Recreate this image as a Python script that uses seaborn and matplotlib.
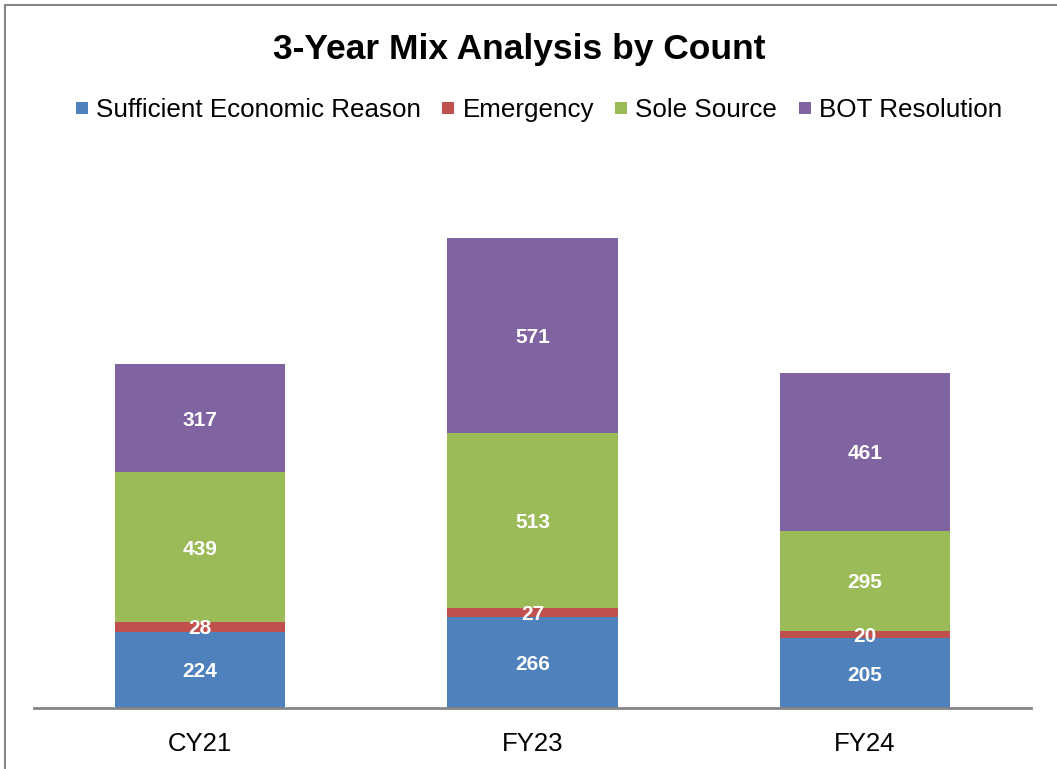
import matplotlib
matplotlib.use("Agg")
import matplotlib.pyplot as plt
import seaborn as sns
import numpy as np
import pandas as pd
from matplotlib.lines import Line2D

years = ["CY21", "FY23", "FY24"]
series_names = ["Sufficient Economic Reason", "Emergency", "Sole Source", "BOT Resolution"]
sufficient = [224, 266, 205]
emergency = [28, 27, 20]
sole_source = [439, 513, 295]
bot_resolution = [317, 571, 461]
colors = ["#4F81BD", "#C0504D", "#9BBB59", "#8064A2"]

sns.set_theme(style="white")
plt.rcParams["font.family"] = ["Liberation Sans", "DejaVu Sans"]
plt.rcParams["text.color"] = "black"

W, H = 1057, 769
fig = plt.figure(figsize=(W / 100, H / 100), dpi=100)
ax = fig.add_axes([34 / W, (H - 708) / H, 997 / W, 546 / H])

series = [sufficient, emergency, sole_source, bot_resolution]
bottom = np.zeros(len(years))
for name, vals, col in zip(series_names, series, colors):
    df = pd.DataFrame({"year": years, "count": vals})
    sns.barplot(data=df, x="year", y="count", color=col, saturation=1,
                width=0.512, bottom=bottom.copy(), ax=ax, linewidth=0,
                errorbar=None)
    for i, v in enumerate(vals):
        ax.text(i, bottom[i] + v / 2, f"{v}", ha="center", va="center_baseline",
                color="white", fontsize=15, fontweight="bold")
    bottom += np.array(vals)

ax.set_xlim(-0.5, 2.5)
ax.set_ylim(0, 1600)
ax.set_yticks([])
ax.set_xlabel("")
ax.set_ylabel("")
for s in ["top", "right", "left"]:
    ax.spines[s].set_visible(False)
ax.spines["bottom"].set_color("#868686")
ax.spines["bottom"].set_linewidth(2)
ax.tick_params(axis="x", length=0, pad=17, labelsize=18.5, colors="black")

fig.text(519 / W, 1 - 49 / H, "3-Year Mix Analysis by Count", ha="center",
         va="center", fontsize=25.5, fontweight="bold", color="black")

handles = [Line2D([0], [0], marker="s", linestyle="none", markersize=8,
                  markerfacecolor=c, markeredgewidth=0) for c in colors]
leg = fig.legend(handles, series_names, loc="center", ncol=4,
                 bbox_to_anchor=(536 / W, 1 - 110 / H), frameon=False,
                 fontsize=18.7, handletextpad=0.1, columnspacing=0.6,
                 handlelength=0.9)
for t in leg.get_texts():
    t.set_color("black")

# chart border (left and top edges)
fig.add_artist(Line2D([4.5 / W, 4.5 / W], [0, 1 - 4.5 / H],
                      color="#868686", linewidth=1.5, transform=fig.transFigure))
fig.add_artist(Line2D([4.5 / W, 1], [1 - 4.5 / H, 1 - 4.5 / H],
                      color="#868686", linewidth=1.5, transform=fig.transFigure))

fig.savefig("out.png", dpi=100, facecolor="white")
